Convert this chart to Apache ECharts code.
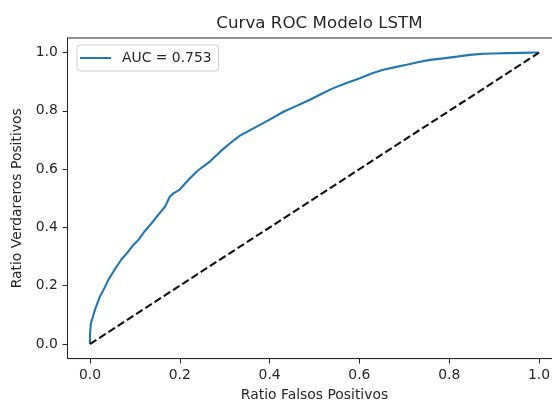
<!DOCTYPE html>
<html>
<head>
<meta charset="utf-8">
<script src="https://cdn.jsdelivr.net/npm/echarts@6/dist/echarts.min.js"></script>
<style>
html,body{margin:0;padding:0;background:#fff;}
#chart{width:552px;height:403px;}
</style>
</head>
<body>
<div id="chart"></div>
<script>
const titleText = 'Curva ROC Modelo LSTM';
const xName = 'Ratio Falsos Positivos';
const yName = 'Ratio Verdareros Positivos';
const legendLabel = 'AUC = 0.753';
const tickValues = [0, 0.2, 0.4, 0.6, 0.8, 1.0];
const fpr = [0, 0, 0.002, 0.006, 0.011, 0.022, 0.030, 0.041, 0.050, 0.059, 0.070, 0.082, 0.095, 0.108, 0.122, 0.137, 0.152, 0.167, 0.178, 0.186, 0.200, 0.219, 0.238, 0.252, 0.267, 0.290, 0.312, 0.334, 0.364, 0.400, 0.431, 0.460, 0.490, 0.515, 0.542, 0.570, 0.601, 0.627, 0.653, 0.680, 0.705, 0.730, 0.757, 0.787, 0.817, 0.846, 0.876, 0.900, 0.928, 0.960, 0.995, 1.0];
const tpr = [0, 0.030, 0.071, 0.090, 0.117, 0.162, 0.185, 0.220, 0.243, 0.265, 0.290, 0.311, 0.337, 0.357, 0.387, 0.414, 0.443, 0.471, 0.506, 0.517, 0.530, 0.563, 0.592, 0.609, 0.626, 0.660, 0.689, 0.715, 0.740, 0.770, 0.797, 0.817, 0.838, 0.858, 0.878, 0.895, 0.912, 0.928, 0.941, 0.950, 0.958, 0.967, 0.975, 0.980, 0.986, 0.992, 0.996, 0.997, 0.998, 0.999, 1.0, 1.0];
const diagX = [0, 1];
const diagY = [0, 1];

const font = 'DejaVu Sans';
const txt = '#262626';
const chart = echarts.init(document.getElementById('chart'), null, {renderer: 'canvas'});
const axisCommon = {
  type: 'value', min: -0.05, max: 1.05,
  axisLine: {show: true, onZero: false, lineStyle: {color: '#222', width: 1}},
  axisTick: {show: true, length: 4.9, customValues: tickValues, lineStyle: {color: '#222', width: 1}},
  axisLabel: {customValues: tickValues, color: txt, fontFamily: font, fontSize: 13.9, margin: 9.7,
    formatter: v => v.toFixed(1)},
  splitLine: {show: false},
  nameLocation: 'middle',
  nameTextStyle: {color: txt, fontFamily: font, fontSize: 13.9}
};
chart.setOption({
  animation: false,
  backgroundColor: '#fff',
  title: {text: titleText, left: 314.5, top: 10, textAlign: 'center',
    textStyle: {color: txt, fontFamily: font, fontSize: 16.7, fontWeight: 'normal'}},
  grid: {left: 67.5, top: 38, width: 494, height: 320.6, show: true, borderColor: '#222', borderWidth: 1,
    containLabel: false, outerBoundsMode: 'none'},
  legend: {
    data: [{name: legendLabel, icon: 'rect'}], left: 77, top: 45, orient: 'vertical',
    padding: [6, 7, 6, 3], itemWidth: 31, itemHeight: 2,
    backgroundColor: 'rgba(255,255,255,0.8)', borderColor: '#cccccc', borderWidth: 1, borderRadius: 3,
    textStyle: {color: txt, fontFamily: font, fontSize: 13.9, padding: [0, 0, 0, 6]}
  },
  xAxis: Object.assign({}, axisCommon, {name: xName, nameGap: 30}),
  yAxis: Object.assign({}, axisCommon, {name: yName, nameGap: 43, nameRotate: 90}),
  series: [
    {name: legendLabel, type: 'line', symbol: 'none', showSymbol: false,
     data: fpr.map((x, i) => [x, tpr[i]]),
     lineStyle: {color: '#1f77b4', width: 2.1}, itemStyle: {color: '#1f77b4'}},
    {name: 'diag', type: 'line', symbol: 'none', showSymbol: false,
     data: diagX.map((x, i) => [x, diagY[i]]),
     lineStyle: {color: '#111', width: 2.1, type: [7.7, 3.3]}}
  ]
});
</script>
</body>
</html>
